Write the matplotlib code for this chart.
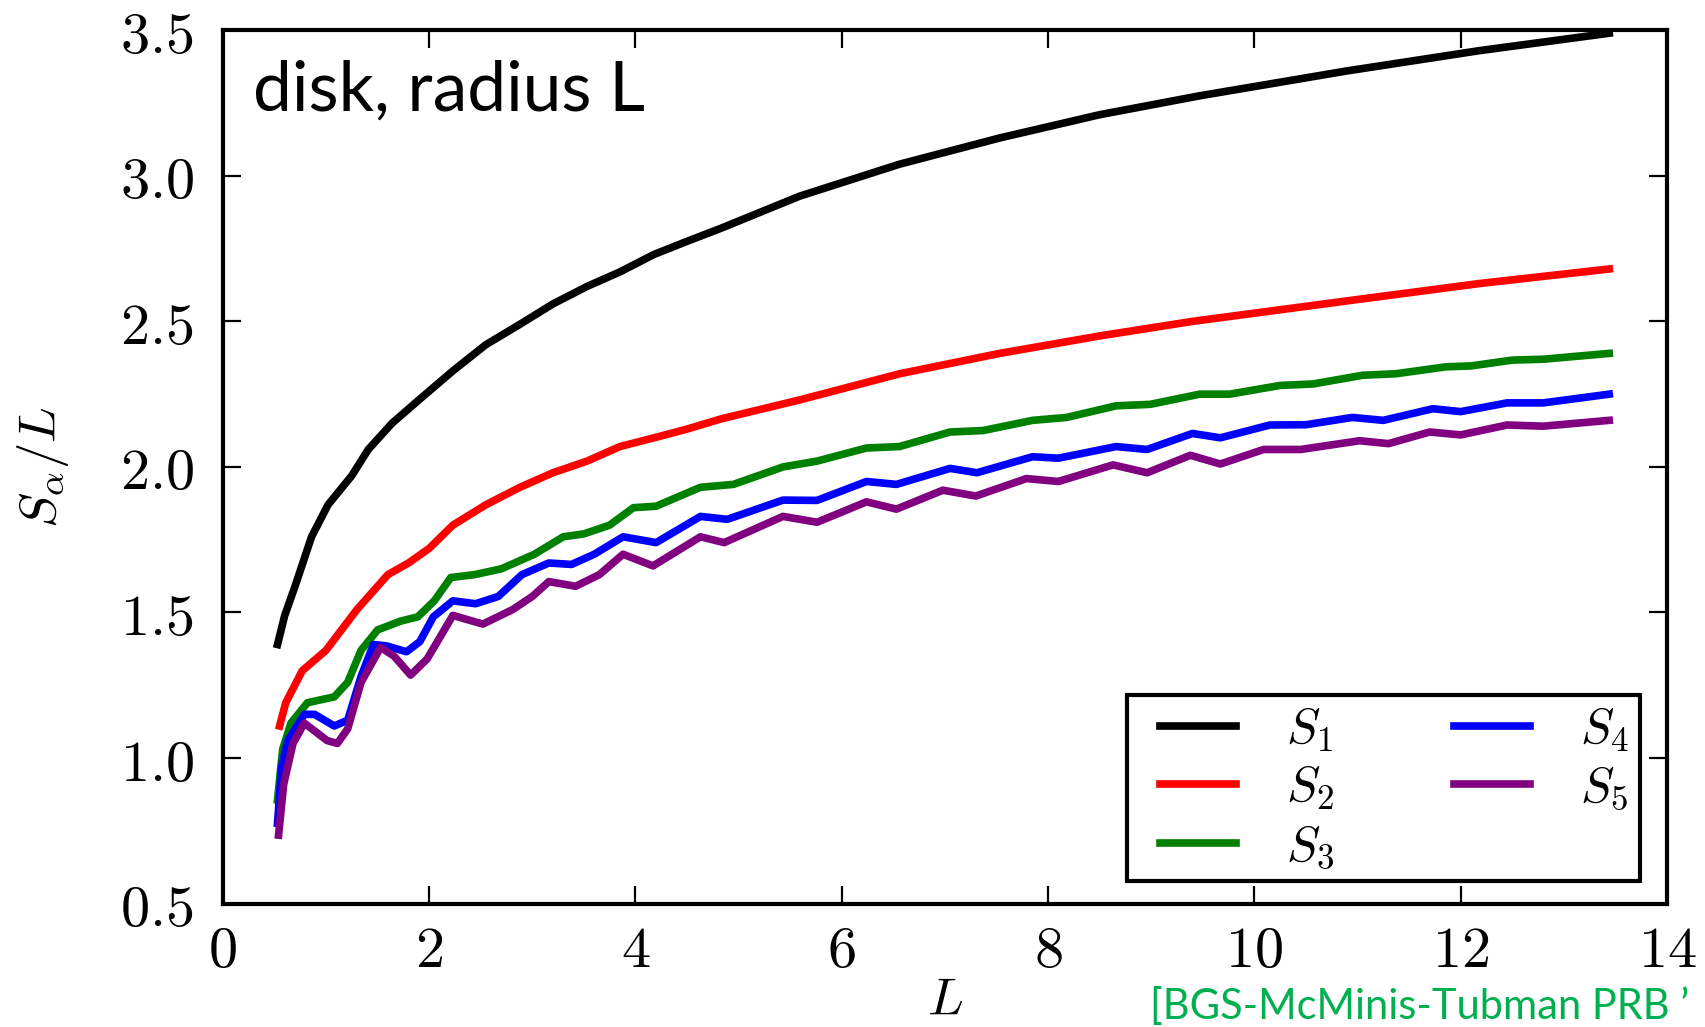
import numpy as np
import matplotlib
matplotlib.use('Agg')
import matplotlib.pyplot as plt
from matplotlib.ticker import FuncFormatter
from matplotlib.legend_handler import HandlerLine2D

plt.rcParams['mathtext.fontset'] = 'cm'

# S_alpha / L  vs  L
L1 = [0.53, 0.6, 0.7, 0.86, 1.02, 1.25, 1.41, 1.64, 1.90, 2.23, 2.55, 2.88, 3.2,
      3.53, 3.85, 4.18, 4.5, 4.83, 5.59, 6.56, 7.53, 8.5, 9.47, 10.89, 12.18, 13.44]
S1 = [1.39, 1.49, 1.59, 1.76, 1.87, 1.97, 2.06, 2.15, 2.23, 2.33, 2.42, 2.49, 2.56,
      2.62, 2.67, 2.73, 2.775, 2.82, 2.93, 3.04, 3.13, 3.21, 3.275, 3.36, 3.43, 3.49]

L2 = [0.55, 0.61, 0.77, 1.0, 1.15, 1.3, 1.45, 1.6, 1.8, 2.0, 2.23, 2.55, 2.88, 3.2,
      3.53, 3.85, 4.18, 4.5, 4.83, 5.59, 6.56, 7.53, 8.5, 9.4, 10.89, 12.18, 13.44]
S2 = [1.11, 1.19, 1.30, 1.37, 1.44, 1.51, 1.57, 1.63, 1.67, 1.72, 1.80, 1.87, 1.93, 1.98,
      2.02, 2.07, 2.10, 2.13, 2.165, 2.23, 2.32, 2.39, 2.45, 2.50, 2.57, 2.63, 2.68]

L3 = [0.53, 0.58, 0.66, 0.82, 1.08, 1.21, 1.34, 1.50, 1.72, 1.89, 2.05, 2.21, 2.44, 2.70,
      3.02, 3.3, 3.5, 3.75, 3.98, 4.2, 4.63, 4.95, 5.43, 5.76, 6.24, 6.56, 7.05, 7.37,
      7.85, 8.18, 8.66, 8.99, 9.47, 9.76, 10.25, 10.57, 11.05, 11.37, 11.86, 12.1,
      12.5, 12.8, 13.44]
S3 = [0.856, 1.03, 1.12, 1.19, 1.21, 1.26, 1.37, 1.44, 1.47, 1.485, 1.54, 1.62, 1.63, 1.65,
      1.70, 1.76, 1.77, 1.80, 1.86, 1.865, 1.93, 1.94, 2.00, 2.02, 2.065, 2.07, 2.12, 2.125,
      2.16, 2.17, 2.21, 2.215, 2.25, 2.25, 2.28, 2.285, 2.315, 2.32, 2.344, 2.347,
      2.367, 2.37, 2.39]

L4 = [0.53, 0.57, 0.63, 0.79, 0.89, 1.08, 1.21, 1.34, 1.46, 1.59, 1.78, 1.91, 2.04, 2.23,
      2.45, 2.67, 2.90, 3.16, 3.38, 3.6, 3.88, 4.20, 4.63, 4.89, 5.43, 5.76, 6.24, 6.53,
      7.05, 7.31, 7.85, 8.1, 8.66, 8.96, 9.40, 9.67, 10.15, 10.5, 10.95, 11.25, 11.73,
      12.0, 12.45, 12.8, 13.44]
S4 = [0.776, 0.97, 1.06, 1.15, 1.15, 1.11, 1.13, 1.28, 1.39, 1.385, 1.365, 1.40, 1.485, 1.54,
      1.53, 1.555, 1.63, 1.67, 1.665, 1.70, 1.76, 1.74, 1.83, 1.82, 1.886, 1.885, 1.95, 1.94,
      1.995, 1.98, 2.035, 2.03, 2.07, 2.06, 2.115, 2.10, 2.144, 2.145, 2.17, 2.16, 2.20,
      2.19, 2.22, 2.22, 2.25]

L5 = [0.54, 0.59, 0.68, 0.79, 1.01, 1.11, 1.21, 1.34, 1.53, 1.66, 1.82, 1.98, 2.23, 2.52,
      2.81, 3.0, 3.16, 3.42, 3.65, 3.88, 4.17, 4.63, 4.86, 5.43, 5.76, 6.24, 6.53, 6.98,
      7.3, 7.79, 8.1, 8.63, 8.96, 9.38, 9.67, 10.09, 10.45, 11.02, 11.3, 11.70, 12.0,
      12.45, 12.8, 13.44]
S5 = [0.735, 0.91, 1.05, 1.12, 1.06, 1.05, 1.10, 1.26, 1.38, 1.35, 1.285, 1.34, 1.49, 1.46,
      1.51, 1.555, 1.606, 1.59, 1.63, 1.70, 1.66, 1.76, 1.74, 1.83, 1.81, 1.88, 1.855, 1.92,
      1.90, 1.96, 1.95, 2.007, 1.98, 2.04, 2.01, 2.06, 2.06, 2.09, 2.08, 2.12, 2.11,
      2.144, 2.14, 2.16]

series = [(L1, S1, 'black', '$S_1$'),
          (L2, S2, 'red', '$S_2$'),
          (L3, S3, 'green', '$S_3$'),
          (L4, S4, 'blue', '$S_4$'),
          (L5, S5, 'purple', '$S_5$')]

xticks = [0, 2, 4, 6, 8, 10, 12, 14]
yticks = [0.5, 1.0, 1.5, 2.0, 2.5, 3.0, 3.5]

fig = plt.figure(figsize=(17.05, 10.27), dpi=100)
ax = fig.add_axes([0.1307, 0.1202, 0.8470, 0.8503])

lines = []
for xs, ys, c, lab in series:
    ln, = ax.plot(xs, ys, color=c, lw=5.5, label=lab, solid_joinstyle='round')
    lines.append(ln)

ax.set_xlim(0, 14)
ax.set_ylim(0.5, 3.5)
ax.set_xticks(xticks)
ax.set_yticks(yticks)
ax.xaxis.set_major_formatter(FuncFormatter(lambda v, p: r'$%d$' % v))
ax.yaxis.set_major_formatter(FuncFormatter(lambda v, p: r'$%.1f$' % v))
ax.tick_params(direction='in', length=13, width=1.6, top=True, right=True,
               labelsize=42)
ax.tick_params(axis='x', pad=13)
ax.tick_params(axis='y', pad=21)
for s in ax.spines.values():
    s.set_linewidth(3)

ax.set_xlabel('$L$', fontsize=38)
ax.set_ylabel(r'$S_\alpha/L$', fontsize=38)
ax.xaxis.set_label_coords(0.5, -0.08)
ax.yaxis.set_label_coords(-0.105, 0.5)

ax.text(0.021, 0.9076, 'disk, radius L', transform=ax.transAxes,
        fontsize=50, family='Lato', va='baseline', ha='left')

hmap = {ln: HandlerLine2D(xpad=0.45) for ln in lines}
leg = ax.legend(ncol=2, loc='lower right', fontsize=36, frameon=True,
                fancybox=False, framealpha=1, handlelength=1.97, handletextpad=1.0,
                columnspacing=1.95, labelspacing=0.2, borderpad=0.2,
                bbox_to_anchor=(0.981, 0.026), borderaxespad=0, handler_map=hmap)
leg.get_frame().set_edgecolor('black')
leg.get_frame().set_linewidth(3)
for h in leg.get_lines():
    h.set_linewidth(5.5)

fig.text(0.6745, 0.008, '[BGS-McMinis-Tubman PRB \u2019', color='#00B050',
         fontsize=30, family='Lato', va='baseline', ha='left')

fig.savefig('out.png', dpi=100)
